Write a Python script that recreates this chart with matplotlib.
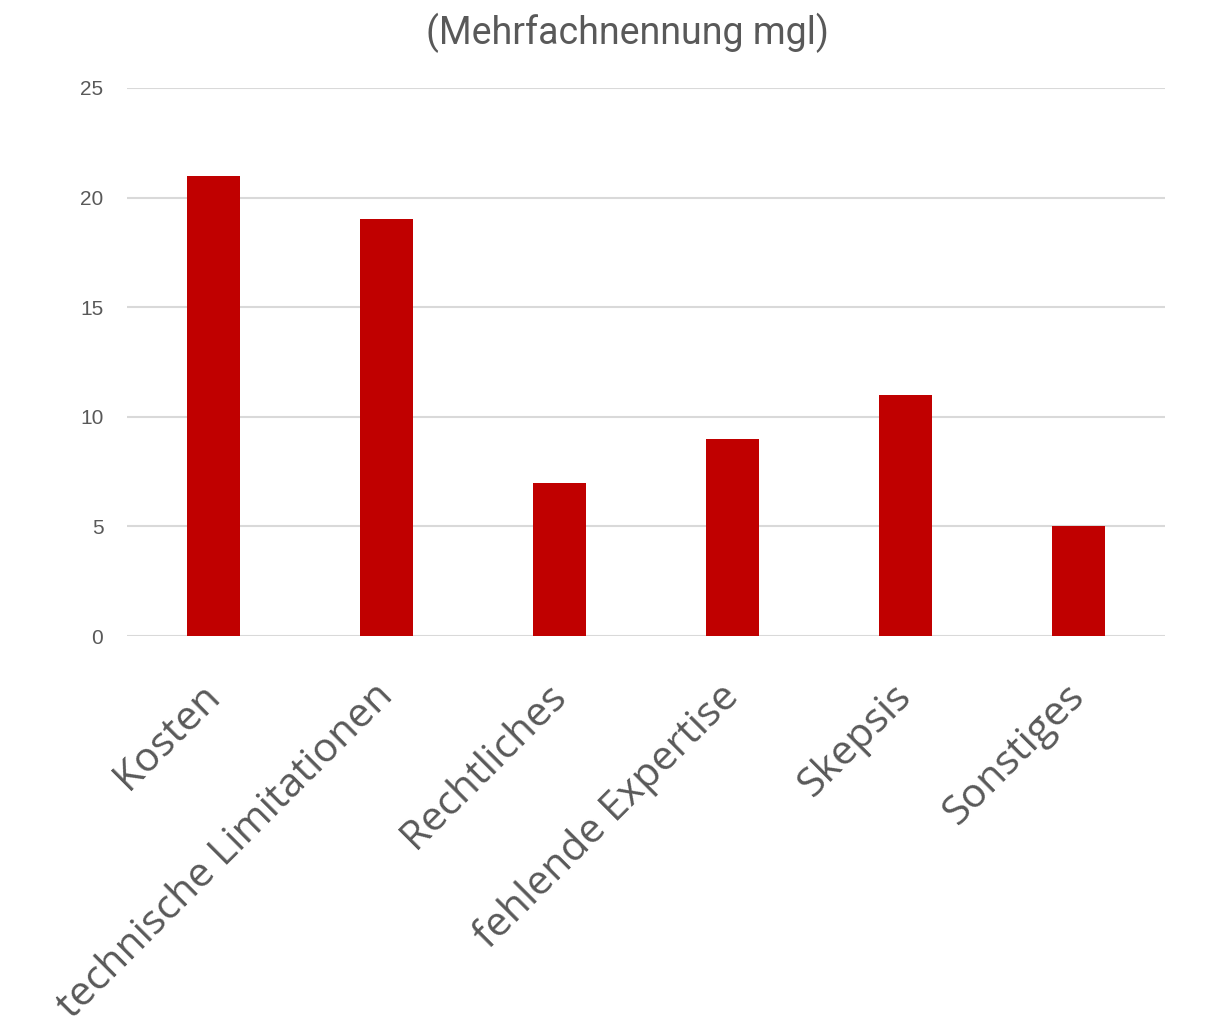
import matplotlib.pyplot as plt
from matplotlib.transforms import ScaledTranslation

categories = ['Kosten', 'technische Limitationen', 'Rechtliches',
              'fehlende Expertise', 'Skepsis', 'Sonstiges']
values = [21, 19, 7, 9, 11, 5]
yticks = [0, 5, 10, 15, 20, 25]

fig = plt.figure(figsize=(12.15, 10.24), dpi=100)
ax = fig.add_axes([0.1045, 0.3789, 0.8543, 0.5352])

ax.bar(range(len(categories)), values, width=0.31, color='#C00000', zorder=3)

ax.set_xlim(-0.5, len(categories) - 0.5)
ax.set_ylim(0, 25)
ax.set_yticks(yticks)
ax.set_yticklabels([str(v) for v in yticks], fontsize=15, color='#595959',
                   family='Liberation Sans')
ax.grid(axis='y', color='#D9D9D9', linewidth=1.5, zorder=0)
ax.tick_params(axis='both', length=0)
ax.tick_params(axis='y', pad=17)
for s in ax.spines.values():
    s.set_visible(False)

ax.set_xticks(range(len(categories)))
ax.set_xticklabels(categories, rotation=45, ha='right', va='top',
                   rotation_mode='anchor', fontsize=29.5, color='#595959',
                   family='Open Sans')
ax.tick_params(axis='x', pad=29)
shift = ScaledTranslation(-10 / 72, 0, fig.dpi_scale_trans)
for lbl in ax.get_xticklabels():
    lbl.set_transform(lbl.get_transform() + shift)

fig.text(0.516, 0.968, '(Mehrfachnennung mgl)', ha='center', va='center',
         fontsize=27, color='#595959',
         family=['Liberation Sans Narrow', 'Roboto'])

plt.savefig('out.png', dpi=100)
